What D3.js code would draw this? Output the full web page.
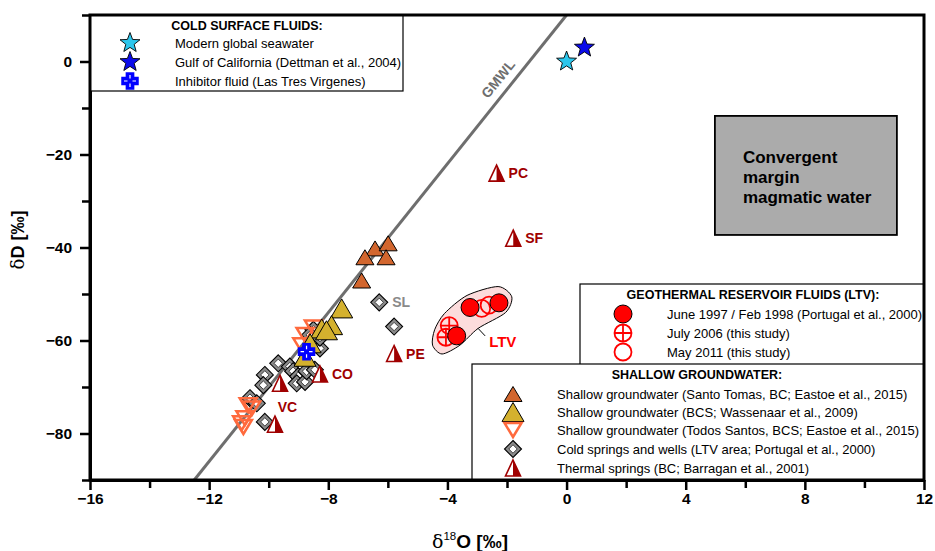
<!DOCTYPE html>
<html><head><meta charset="utf-8">
<script src="https://cdn.jsdelivr.net/npm/d3@7"></script>
<style>body{margin:0;background:#fff} svg text{font-family:"Liberation Sans",Arial,sans-serif}</style>
</head><body><svg id="c" width="935" height="551"></svg>
<script>
// ---------- data ----------
const xTicks = [-16,-12,-8,-4,0,4,8,12];
const xMinor = [-14,-10,-6,-2,2,6,10];
const yTicks = [0,-20,-40,-60,-80];
const yMinor = [10,-10,-30,-50,-70,-90];

const seawater = [{x:0, y:0}];
const gulfCalifornia = [{x:0.6, y:3}];
const inhibitor = [{x:-8.73, y:-62.4}];

const june1997 = [{x:-3.24,y:-52.9},{x:-2.27,y:-51.9},{x:-3.69,y:-59.0}];
const july2006 = [{x:-3.94,y:-56.8},{x:-4.05,y:-59.3}];
const may2011 = [{x:-2.85,y:-53.1},{x:-2.60,y:-52.4}];

const santoTomas = [{x:-6.43,y:-40.2},{x:-5.99,y:-39.1},{x:-6.77,y:-42.1},{x:-6.06,y:-42.1},{x:-6.88,y:-47.1}];
const wassenaar = [{x:-7.55,y:-53.1},{x:-7.89,y:-56.7},{x:-8.22,y:-57.4},{x:-8.06,y:-57.8},{x:-8.61,y:-60.6},{x:-8.78,y:-63.5}];
const todosSantos = [{x:-8.50,y:-57.2},{x:-8.78,y:-58.8},{x:-8.89,y:-61.0},{x:-10.69,y:-73.9},{x:-10.57,y:-74.6},{x:-10.80,y:-76.7},{x:-10.91,y:-77.8},{x:-10.85,y:-78.6}];
const coldSprings = [
 {x:-6.29,y:-51.8},{x:-5.79,y:-57.0},{x:-9.68,y:-64.9},{x:-10.13,y:-67.4},{x:-10.18,y:-69.6},
 {x:-9.29,y:-65.6},{x:-9.18,y:-66.6},{x:-9.01,y:-67.7},{x:-9.06,y:-69.2},{x:-8.78,y:-68.9},
 {x:-8.73,y:-66.6},{x:-8.45,y:-66.3},{x:-8.28,y:-61.7},{x:-8.50,y:-57.7},{x:-8.61,y:-58.8},
 {x:-10.63,y:-72.4},{x:-10.40,y:-73.5},{x:-10.13,y:-77.5},{x:-8.28,y:-59.4}];
const thermalSprings = [
 {x:-2.35,y:-24.0,label:"PC"},{x:-1.79,y:-38.0,label:"SF"},{x:-5.79,y:-62.8,label:"PE"},
 {x:-8.28,y:-67.2,label:"CO"},{x:-9.62,y:-69.2,label:""},{x:-9.79,y:-78.0,label:"VC"}];
const vcLabel = {x:-9.7, y:-74.3};

const ltvOutline = [[-2.30,-48.4],[-1.84,-50.6],[-2.05,-54.0],[-2.97,-57.4],[-3.58,-61.0],[-4.18,-62.9],[-4.50,-61.0],[-4.43,-57.7],[-4.10,-54.2],[-3.34,-50.3]];
const ltvLabel = {x:-2.6, y:-60.3, from:[-2.97,-57.4]};
const gmwl = {slope:8, intercept:10};
const magmaticBox = {x0:4.98, x1:11.09, y0:-11.7, y1:-37.3};

// ---------- setup ----------
const svg = d3.select("#c");
const x = d3.scaleLinear([-16,12],[90,924]);
const y = d3.scaleLinear([-90,10],[480,15]);
const DARKRED = "#a00000";

// GMWL
const gx0 = (-90 - gmwl.intercept)/gmwl.slope, gx1 = (10 - gmwl.intercept)/gmwl.slope;
svg.append("line").attr("x1",x(gx0)).attr("y1",y(-90)).attr("x2",x(gx1)).attr("y2",y(10))
  .attr("stroke","#6e6e6e").attr("stroke-width",3);
{
  const ang = Math.atan2(y(1)-y(0), (x(1/8)-x(0))) * 180/Math.PI;
  const gx = -1.8, gy = gmwl.slope*gx + gmwl.intercept;
  svg.append("text").attr("transform",`translate(${x(gx)-11},${y(gy)}) rotate(${ang})`)
    .attr("text-anchor","middle").attr("font-weight","bold").attr("font-size",14).attr("fill","#6e6e6e").text("GMWL");
}

// magmatic box
svg.append("rect").attr("x",x(magmaticBox.x0)).attr("y",y(magmaticBox.y0))
  .attr("width",x(magmaticBox.x1)-x(magmaticBox.x0)).attr("height",y(magmaticBox.y1)-y(magmaticBox.y0))
  .attr("fill","#ababab").attr("stroke","#000").attr("stroke-width",1.8);
["Convergent","margin","magmatic water"].forEach((t,i)=>{
  svg.append("text").attr("x",x(magmaticBox.x0)+28).attr("y",y(magmaticBox.y0)+47+i*20)
    .attr("font-weight","bold").attr("font-size",17).text(t);
});

// LTV blob
svg.append("path").datum(ltvOutline)
  .attr("d",d3.line().x(d=>x(d[0])).y(d=>y(d[1])).curve(d3.curveCardinalClosed.tension(0.2)))
  .attr("fill","#fcdcdc").attr("stroke","#000").attr("stroke-width",1);
svg.append("line").attr("x1",x(ltvLabel.from[0])).attr("y1",y(ltvLabel.from[1]))
  .attr("x2",x(ltvLabel.x)-4).attr("y2",y(ltvLabel.y)-6).attr("stroke","#000").attr("stroke-width",1);
svg.append("text").attr("x",x(ltvLabel.x)).attr("y",y(ltvLabel.y)+5).attr("fill","#ff0000")
  .attr("font-weight","bold").attr("font-size",15).text("LTV");

// ---------- marker painters ----------
function starPath(R){const r=R*0.42;let p="";for(let i=0;i<10;i++){const a=-Math.PI/2+i*Math.PI/5;const rr=i%2?r:R;p+=(i?"L":"M")+(rr*Math.cos(a)).toFixed(2)+","+(rr*Math.sin(a)).toFixed(2);}return p+"Z";}
function triUp(w,h){return `M0,${-h/2}L${w/2},${h/2}L${-w/2},${h/2}Z`;}
function triDown(w,h){return `M0,${h/2}L${w/2},${-h/2}L${-w/2},${-h/2}Z`;}
function diamond(s){return `M0,${-s}L${s},0L0,${s}L${-s},0Z`;}
function plus(a,b){return `M${-b},${-a}H${b}V${-b}H${a}V${b}H${b}V${a}H${-b}V${b}H${-a}V${-b}H${-b}Z`;}

const painters = {
  seawater: g=>g.append("path").attr("d",starPath(10.5)).attr("fill","#2cc6ec").attr("stroke","#000").attr("stroke-width",0.9),
  gulf: g=>g.append("path").attr("d",starPath(10.5)).attr("fill","#0b0bea").attr("stroke","#000").attr("stroke-width",0.9),
  inhibitor: g=>{g.append("path").attr("d",plus(8,3.6)).attr("fill","#0000ff").attr("stroke","#0000ff").attr("stroke-width",1.5);
                 g.append("path").attr("d","M-6,0H-2.5M2.5,0H6M0,-6V-2.5M0,2.5V6").attr("stroke","#fff").attr("stroke-width",1.2);},
  june: g=>g.append("circle").attr("r",9).attr("fill","#ff0000").attr("stroke","#000").attr("stroke-width",1),
  july: g=>{g.append("circle").attr("r",8.5).attr("fill","none").attr("stroke","#ff0000").attr("stroke-width",1.8);
            g.append("path").attr("d","M-8.5,0H8.5M0,-8.5V8.5").attr("stroke","#ff0000").attr("stroke-width",1.8);},
  may: g=>g.append("circle").attr("r",8.5).attr("fill","none").attr("stroke","#ff0000").attr("stroke-width",1.8),
  santo: g=>g.append("path").attr("d",triUp(18,15)).attr("fill","#d2662e").attr("stroke","#000").attr("stroke-width",1),
  wass: g=>g.append("path").attr("d",triUp(22,19)).attr("fill","#d4b12e").attr("stroke","#000").attr("stroke-width",1),
  todos: g=>g.append("path").attr("d",triDown(17,14)).attr("fill","none").attr("stroke","#ff6a3d").attr("stroke-width",2.5),
  cold: g=>{g.append("path").attr("d",diamond(8.5)).attr("fill","#8a8a8a").attr("stroke","#000").attr("stroke-width",1.1);
            g.append("path").attr("d",diamond(4.2)).attr("fill","#fff").attr("stroke","#222").attr("stroke-width",0.8);},
  thermal: g=>{g.append("path").attr("d",triUp(15,16)).attr("fill","#fff").attr("stroke",DARKRED).attr("stroke-width",1.6);
               g.append("path").attr("d",`M0,-8L7.5,8L0,8Z`).attr("fill",DARKRED);}
};
function plot(data, key){
  svg.append("g").selectAll("g").data(data).join("g")
    .attr("transform",d=>`translate(${x(d.x)},${y(d.y)})`)
    .each(function(){painters[key](d3.select(this));});
}
plot(coldSprings,"cold");
plot(santoTomas,"santo");
plot(todosSantos,"todos");
plot(wassenaar,"wass");
plot(thermalSprings,"thermal");
plot(july2006,"july");
plot(may2011,"may");
plot(june1997,"june");
plot(inhibitor,"inhibitor");
plot(seawater,"seawater");
plot(gulfCalifornia,"gulf");

// point labels
svg.append("g").selectAll("text").data(thermalSprings.filter(d=>d.label && d.label!=="VC")).join("text")
  .attr("x",d=>x(d.x)+12).attr("y",d=>y(d.y)+5).attr("fill",DARKRED).attr("font-weight","bold").attr("font-size",14)
  .text(d=>d.label);
svg.append("text").attr("x",x(vcLabel.x)).attr("y",y(vcLabel.y)+5).attr("fill",DARKRED).attr("font-weight","bold").attr("font-size",14).text("VC");
svg.append("text").attr("x",x(coldSprings[0].x)+13).attr("y",y(coldSprings[0].y)+5).attr("fill","#8a8a8a").attr("font-weight","bold").attr("font-size",14).text("SL");

// ---------- axes ----------
const ax = svg.append("g").attr("transform","translate(0,480)");
ax.call(d3.axisBottom(x).tickValues(xTicks).tickSize(10).tickPadding(3).tickSizeOuter(0).tickFormat(d3.format("d")));
const axm = svg.append("g").attr("transform","translate(0,480)");
axm.call(d3.axisBottom(x).tickValues(xMinor).tickSize(8).tickSizeOuter(0).tickFormat(""));
const ay = svg.append("g").attr("transform","translate(90,0)");
ay.call(d3.axisLeft(y).tickValues(yTicks).tickSize(10).tickPadding(8).tickSizeOuter(0).tickFormat(d3.format("d")));
const aym = svg.append("g").attr("transform","translate(90,0)");
aym.call(d3.axisLeft(y).tickValues(yMinor).tickSize(8).tickSizeOuter(0).tickFormat(""));
[ax,axm,ay,aym].forEach(a=>{
  a.select(".domain").attr("stroke-width",3).attr("stroke","#000");
  a.selectAll(".tick line").attr("stroke-width",2.5).attr("stroke","#000");
  a.selectAll(".tick text").attr("font-size",15.5).attr("font-weight","bold").attr("fill","#000")
    .attr("font-family","'Liberation Sans',Arial,sans-serif");
});

// axis titles
const xt = svg.append("text").attr("x",470).attr("y",548).attr("text-anchor","middle").attr("font-size",19);
xt.append("tspan").attr("font-family","'DejaVu Serif',serif").text("δ");
xt.append("tspan").attr("font-size",11.5).attr("dy",-8).text("18");
xt.append("tspan").attr("dy",8).attr("font-weight","bold").text("O [‰]");
const yt = svg.append("text").attr("transform","translate(24,240) rotate(-90)").attr("text-anchor","middle").attr("font-size",18);
yt.append("tspan").attr("font-family","'DejaVu Serif',serif").text("δ");
yt.append("tspan").attr("font-weight","bold").text("D [‰]");

// ---------- legends ----------
function legend(box, title, titleCx, rows, symX, txtX){
  const g = svg.append("g");
  g.append("rect").attr("x",box[0]).attr("y",box[1]).attr("width",box[2]).attr("height",box[3])
    .attr("fill","#fff").attr("stroke","#000").attr("stroke-width",1.2);
  g.append("text").attr("x",titleCx).attr("y",box[1]+15).attr("text-anchor","middle")
    .attr("font-weight","bold").attr("font-size",12.5).text(title);
  rows.forEach(r=>{
    const s = g.append("g").attr("transform",`translate(${symX},${r.cy})`);
    painters[r.key](s);
    g.append("text").attr("x",txtX).attr("y",r.cy+4.5).attr("font-size",13).text(r.text);
  });
}
legend([90,15,313,76],"COLD SURFACE FLUIDS:",247,[
  {key:"seawater",cy:43,text:"Modern global seawater"},
  {key:"gulf",cy:62,text:"Gulf of California (Dettman et al., 2004)"},
  {key:"inhibitor",cy:81,text:"Inhibitor fluid (Las Tres Virgenes)"}],130,175);
legend([580,284,344,81],"GEOTHERMAL RESERVOIR FLUIDS (LTV):",753,[
  {key:"june",cy:314,text:"June 1997 / Feb 1998 (Portugal et al., 2000)"},
  {key:"july",cy:333,text:"July 2006 (this study)"},
  {key:"may",cy:352,text:"May 2011 (this study)"}],623,667);
legend([472,364,452,116],"SHALLOW GROUNDWATER:",697,[
  {key:"santo",cy:394,text:"Shallow groundwater (Santo Tomas, BC; Eastoe et al., 2015)"},
  {key:"wass",cy:412,text:"Shallow groundwater (BCS; Wassenaar et al., 2009)"},
  {key:"todos",cy:430,text:"Shallow groundwater (Todos Santos, BCS; Eastoe et al., 2015)"},
  {key:"cold",cy:449,text:"Cold springs and wells (LTV area; Portugal et al., 2000)"},
  {key:"thermal",cy:468,text:"Thermal springs (BC; Barragan et al., 2001)"}],513,557);
// frame drawn on top of legend boxes
svg.append("path").attr("d",`M${x(-16)},${y(-90)}H${x(12)}V${y(10)}H${x(-16)}Z`).attr("fill","none").attr("stroke","#000").attr("stroke-width",3);
</script></body></html>
